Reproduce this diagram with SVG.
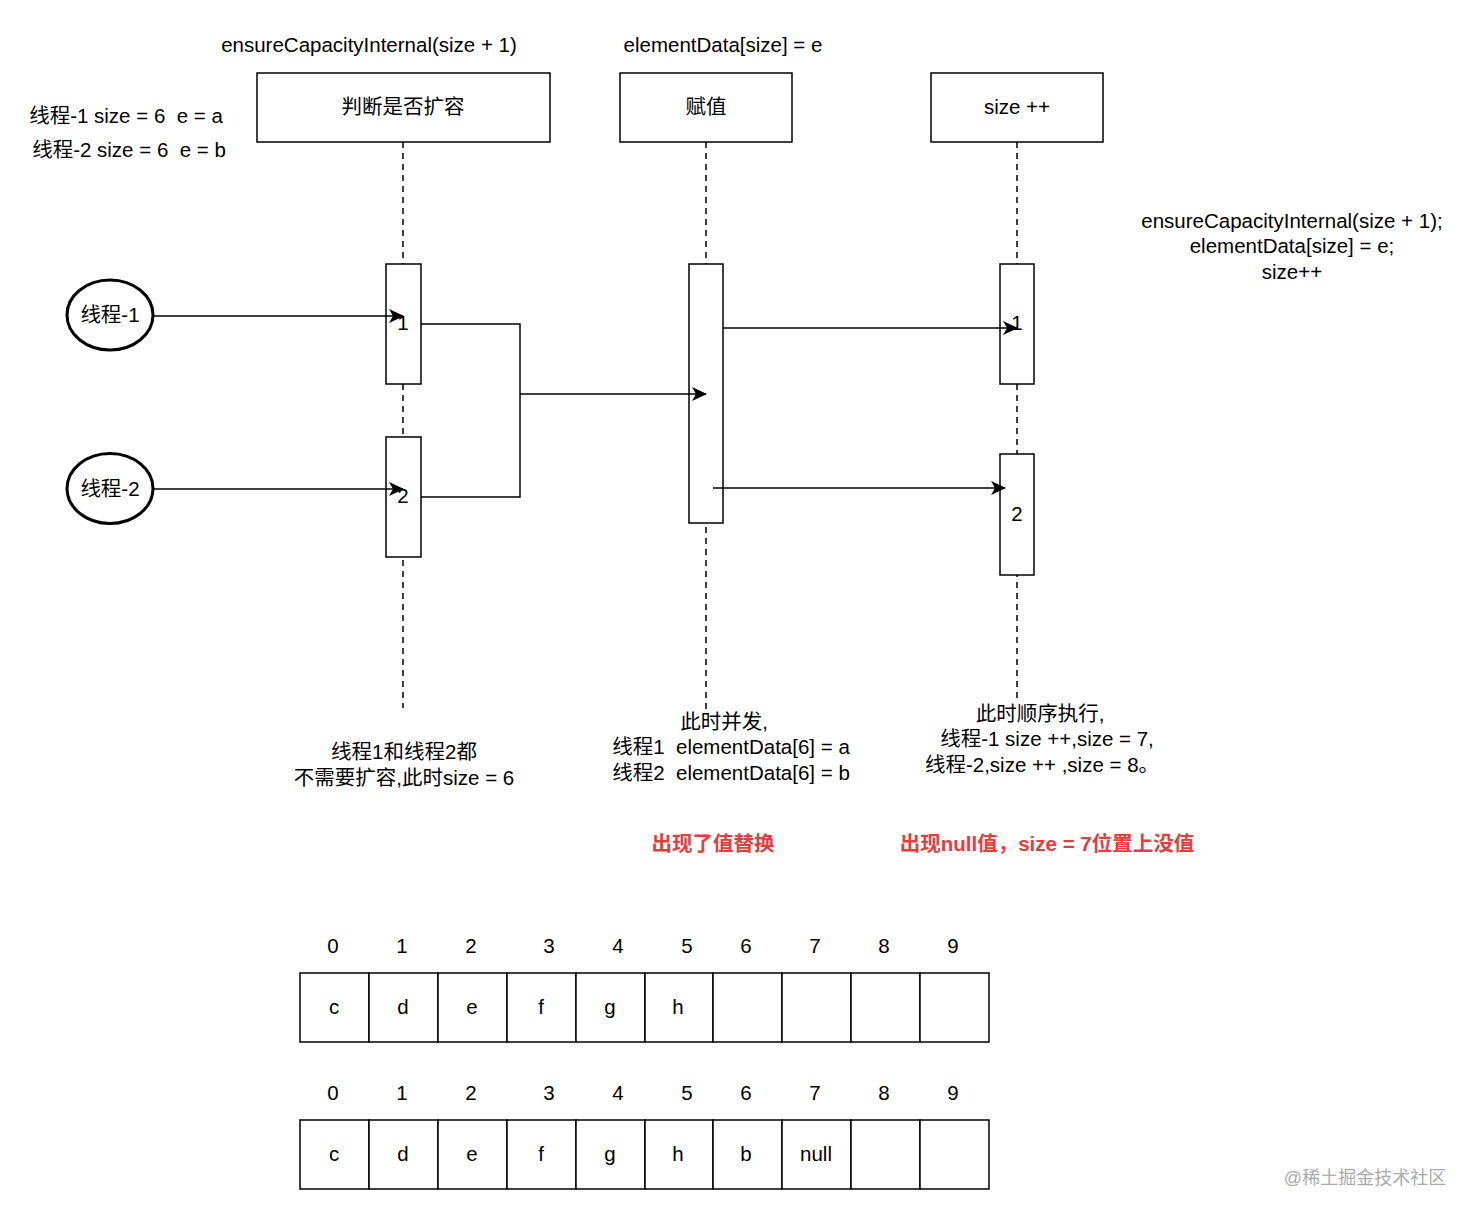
<svg xmlns="http://www.w3.org/2000/svg" width="1476" height="1218" viewBox="0 0 1476 1218">
<style>
text{font-family:"Liberation Sans","Noto Sans CJK SC",sans-serif;font-size:20.5px;fill:#000;text-anchor:middle;white-space:pre}
.box{fill:#fff;stroke:#000;stroke-width:1.5}
.life{stroke:#000;stroke-width:1.5;stroke-dasharray:6 5;fill:none}
.ell{fill:#fff;stroke:#000;stroke-width:3}
.con{fill:none;stroke:#000;stroke-width:1.5}
.red{fill:#e83b3b;font-weight:bold;font-size:20.5px}
.cell{fill:#fff;stroke:#000;stroke-width:1.5}
</style>
<defs>
<marker id="arr" markerWidth="16" markerHeight="14" refX="14" refY="7" orient="auto" markerUnits="userSpaceOnUse">
<path d="M0,0 L15,7 L0,14 L4,7 Z" fill="#000"/>
</marker>
</defs>
<rect width="1476" height="1218" fill="#fff"/>

<g id="lifelines">
<line class="life" x1="403" y1="142" x2="403" y2="708"/>
<line class="life" x1="706" y1="142" x2="706" y2="712"/>
<line class="life" x1="1017" y1="142" x2="1017" y2="700"/>
</g>

<g id="hdr-labels">
<text x="369" y="52">ensureCapacityInternal(size + 1)</text>
<text x="723" y="52">elementData[size] = e</text>
</g>

<g id="box-check"><rect class="box" x="257" y="73" width="293" height="69"/><text x="403" y="114">判断是否扩容</text></g>
<g id="box-assign"><rect class="box" x="620" y="73" width="172" height="69"/><text x="706" y="114">赋值</text></g>
<g id="box-size"><rect class="box" x="931" y="73" width="172" height="69"/><text x="1017" y="114">size ++</text></g>

<g id="thread-info">
<text x="126" y="123" xml:space="preserve">线程-1 size = 6  e = a</text>
<text x="129" y="157" xml:space="preserve">线程-2 size = 6  e = b</text>
</g>

<g id="code-note">
<text x="1292" y="228">ensureCapacityInternal(size + 1);</text>
<text x="1292" y="253">elementData[size] = e;</text>
<text x="1292" y="279">size++</text>
</g>

<g id="act-check1"><rect class="box" x="386" y="264" width="35" height="120"/><text x="403" y="330">1</text></g>
<g id="act-check2"><rect class="box" x="386" y="437" width="35" height="120"/><text x="403" y="503">2</text></g>
<g id="act-assign"><rect class="box" x="689" y="264" width="34" height="259"/></g>
<g id="act-size1"><rect class="box" x="1000" y="264" width="34" height="120"/><text x="1017" y="330">1</text></g>
<g id="act-size2"><rect class="box" x="1000" y="454" width="34" height="121"/><text x="1017" y="521">2</text></g>

<g id="thread1"><ellipse class="ell" cx="110" cy="315" rx="43" ry="35"/><text x="110" y="322">线程-1</text></g>
<g id="thread2"><ellipse class="ell" cx="110" cy="488.5" rx="43" ry="35"/><text x="110" y="496">线程-2</text></g>

<g id="connectors">
<line class="con" x1="153" y1="316" x2="403" y2="316" marker-end="url(#arr)"/>
<line class="con" x1="153" y1="489" x2="403" y2="489" marker-end="url(#arr)"/>
<polyline class="con" points="421,324 520,324 520,394"/>
<polyline class="con" points="421,497 520,497 520,394"/>
<line class="con" x1="520" y1="394" x2="706" y2="394" marker-end="url(#arr)"/>
<line class="con" x1="723" y1="328" x2="1017" y2="328" marker-end="url(#arr)"/>
<line class="con" x1="713" y1="488" x2="1005" y2="488" marker-end="url(#arr)"/>
</g>

<g id="note-check">
<text x="404" y="759">线程1和线程2都</text>
<text x="404" y="785">不需要扩容,此时size = 6</text>
</g>
<g id="note-assign">
<text x="724" y="729">此时并发,</text>
<text x="731" y="754" xml:space="preserve">线程1  elementData[6] = a</text>
<text x="731" y="780" xml:space="preserve">线程2  elementData[6] = b</text>
</g>
<g id="note-size">
<text x="1040" y="721">此时顺序执行,</text>
<text x="1047" y="746">线程-1 size ++,size = 7,</text>
<text x="1042" y="772">线程-2,size ++ ,size = 8。</text>
</g>
<g id="red-notes">
<text class="red" x="713" y="851">出现了值替换</text>
<text class="red" x="1047" y="851">出现null值，size = 7位置上没值</text>
</g>

<g id="array1">
<text x="333" y="953">0</text><text x="402" y="953">1</text><text x="471" y="953">2</text><text x="549" y="953">3</text><text x="618" y="953">4</text><text x="687" y="953">5</text><text x="746" y="953">6</text><text x="815" y="953">7</text><text x="884" y="953">8</text><text x="953" y="953">9</text>
<rect class="cell" x="300" y="973" width="69" height="69"/>
<rect class="cell" x="369" y="973" width="69" height="69"/>
<rect class="cell" x="438" y="973" width="69" height="69"/>
<rect class="cell" x="507" y="973" width="69" height="69"/>
<rect class="cell" x="576" y="973" width="69" height="69"/>
<rect class="cell" x="645" y="973" width="68" height="69"/>
<rect class="cell" x="713" y="973" width="69" height="69"/>
<rect class="cell" x="782" y="973" width="69" height="69"/>
<rect class="cell" x="851" y="973" width="69" height="69"/>
<rect class="cell" x="920" y="973" width="69" height="69"/>
<text x="334" y="1014">c</text><text x="403" y="1014">d</text><text x="472" y="1014">e</text><text x="541" y="1014">f</text><text x="610" y="1014">g</text><text x="678" y="1014">h</text>
</g>

<g id="array2">
<text x="333" y="1100">0</text><text x="402" y="1100">1</text><text x="471" y="1100">2</text><text x="549" y="1100">3</text><text x="618" y="1100">4</text><text x="687" y="1100">5</text><text x="746" y="1100">6</text><text x="815" y="1100">7</text><text x="884" y="1100">8</text><text x="953" y="1100">9</text>
<rect class="cell" x="300" y="1120" width="69" height="69"/>
<rect class="cell" x="369" y="1120" width="69" height="69"/>
<rect class="cell" x="438" y="1120" width="69" height="69"/>
<rect class="cell" x="507" y="1120" width="69" height="69"/>
<rect class="cell" x="576" y="1120" width="69" height="69"/>
<rect class="cell" x="645" y="1120" width="68" height="69"/>
<rect class="cell" x="713" y="1120" width="69" height="69"/>
<rect class="cell" x="782" y="1120" width="69" height="69"/>
<rect class="cell" x="851" y="1120" width="69" height="69"/>
<rect class="cell" x="920" y="1120" width="69" height="69"/>
<text x="334" y="1161">c</text><text x="403" y="1161">d</text><text x="472" y="1161">e</text><text x="541" y="1161">f</text><text x="610" y="1161">g</text><text x="678" y="1161">h</text><text x="746" y="1161">b</text><text x="816" y="1161">null</text>
</g>

<text x="1365" y="1184" style="fill:#aaa;font-size:18px">@稀土掘金技术社区</text>
</svg>
